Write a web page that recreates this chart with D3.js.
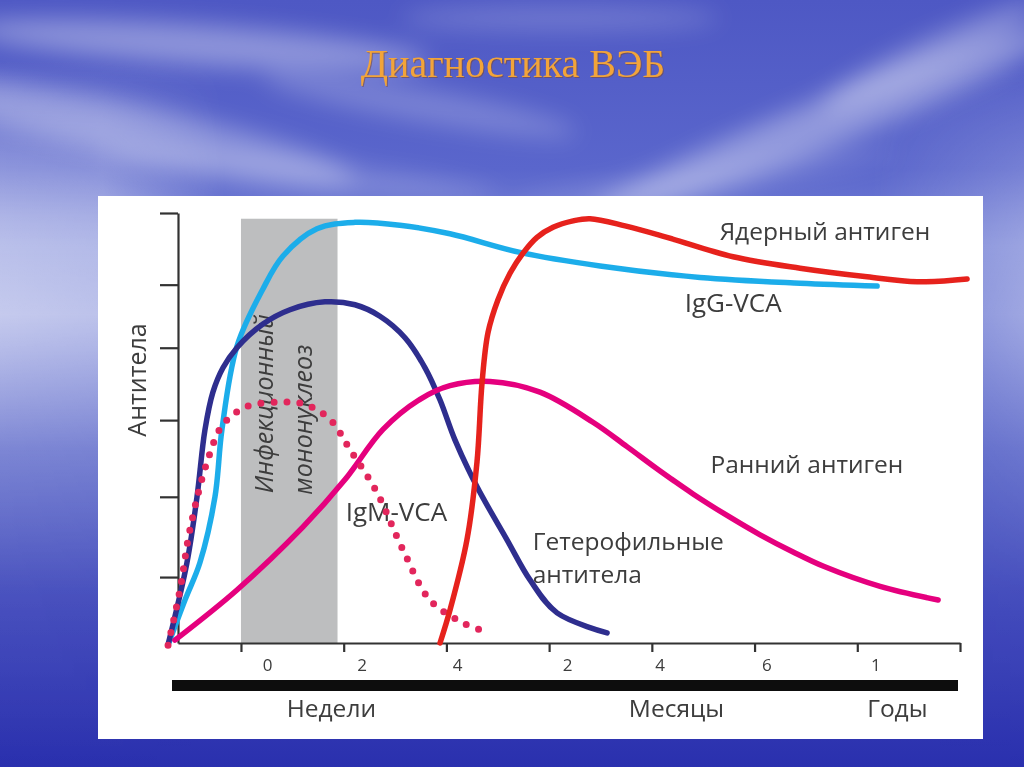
<!doctype html>
<html>
<head>
<meta charset="utf-8">
<script src="https://cdnjs.cloudflare.com/ajax/libs/d3/7.8.5/d3.min.js"></script>
<style>
body{margin:0;overflow:hidden;background:#3a44b8;}
text{font-family:"Open Sans",sans-serif;fill:#3c3c3c;font-weight:500;}
</style>
</head>
<body>
<svg id="slide" width="1024" height="767"></svg>
<script>
// axis ticks and labels
var xTicks = [0, 1, 2, 3, 4, 5, 6, 7];
var xTickLabels = ["0", "2", "4", "2", "4", "6", "1"];
var xLabelAt = [0.26, 1.18, 2.11, 3.18, 4.08, 5.12, 6.18];
var unitNames = ["Недели", "Месяцы", "Годы"];
var unitAt = [0.88, 4.24, 6.39];
var yTicks = [0.92, 2.04, 3.11, 4.12, 5.0, 6.0];
var monoBand = [0, 0.94, 5.92]; // x from, x to, top

// curves [x, y]
var iggVca = [[-0.71,-0.03],[-0.545,0.6],[-0.4,1.12],[-0.253,2.04],[-0.185,2.98],[-0.039,4.14],[0.214,4.94],[0.409,5.4],[0.74,5.78],[1.11,5.87],[1.548,5.83],[2.035,5.71],[2.717,5.45],[3.496,5.26],[4.469,5.1],[5.443,5.02],[6.193,4.98]];
var hetero = [[-0.711,-0.03],[-0.526,1.12],[-0.428,2.04],[-0.351,2.97],[-0.273,3.5],[-0.175,3.84],[-0.039,4.12],[0.214,4.45],[0.477,4.65],[0.818,4.76],[1.11,4.72],[1.353,4.56],[1.597,4.26],[1.792,3.84],[1.938,3.39],[2.084,2.83],[2.298,2.18],[2.59,1.44],[2.814,0.88],[3.077,0.42],[3.564,0.14]];
var igmVca = [[-0.71,-0.03],[-0.594,0.74],[-0.497,1.58],[-0.331,2.52],[-0.175,3.05],[0.058,3.3],[0.38,3.36],[0.623,3.33],[0.867,3.12],[1.061,2.7],[1.324,2.1],[1.577,1.3],[1.84,0.6],[2.162,0.28],[2.405,0.15]];
var earlyAg = [[-0.643,0.04],[-0.039,0.74],[0.604,1.62],[1.013,2.28],[1.383,2.98],[1.743,3.4],[2.035,3.59],[2.425,3.65],[2.911,3.5],[3.427,3.08],[3.758,2.74],[4.08,2.4],[4.401,2.08],[4.732,1.78],[5.054,1.51],[5.375,1.27],[5.672,1.07],[6.222,0.79],[6.787,0.6]];
var nuclearAg = [[1.938,0],[2.035,0.46],[2.2,1.44],[2.298,2.53],[2.347,3.63],[2.405,4.33],[2.502,4.79],[2.619,5.16],[2.746,5.44],[2.882,5.66],[3.038,5.8],[3.233,5.89],[3.398,5.92],[3.739,5.82],[4.148,5.66],[4.791,5.39],[5.443,5.23],[6.095,5.11],[6.582,5.04],[7.069,5.08]];

var labels = [
  {t: "Ядерный антиген", x: 4.66, y: 5.62, s: 24.5},
  {t: "IgG-VCA", x: 4.32, y: 4.62, s: 26},
  {t: "Ранний антиген", x: 4.57, y: 2.37, s: 24.5},
  {t: "Гетерофильные", x: 2.84, y: 1.30, s: 24.5},
  {t: "антитела", x: 2.84, y: 0.84, s: 24.5},
  {t: "IgM-VCA", x: 1.02, y: 1.70, s: 26}
];

var svg = d3.select("#slide");
var defs = svg.append("defs");

// slide background
function grad(id, stops, horiz) {
  var lg = defs.append("linearGradient").attr("id", id).attr("x1", 0).attr("y1", 0)
    .attr("x2", horiz ? 1 : 0).attr("y2", horiz ? 0 : 1);
  stops.forEach(s => lg.append("stop").attr("offset", s[0]).attr("stop-color", s[1]).attr("stop-opacity", s[2] == null ? 1 : s[2]));
}
grad("sky", [["0%", "#4e58c4"], ["22%", "#5a66cc"], ["32%", "#7682d6"], ["45%", "#6c78d2"], ["62%", "#5460c6"], ["80%", "#3e46ba"], ["100%", "#2a30ae"]]);
grad("haze", [["0%", "#fff", 0], ["22%", "#fff", 0.45], ["36%", "#fff", 0.6], ["55%", "#fff", 0.22], ["75%", "#fff", 0.05], ["100%", "#fff", 0]]);
grad("side", [["0%", "#fff", 1], ["10%", "#fff", 0.9], ["22%", "#fff", 0], ["85%", "#fff", 0], ["100%", "#fff", 0.55]], true);
defs.append("mask").attr("id", "sideMask").append("rect").attr("width", 1024).attr("height", 767).attr("fill", "url(#side)");
defs.append("filter").attr("id", "blur").attr("x", "-50%").attr("y", "-50%").attr("width", "200%").attr("height", "200%")
  .append("feGaussianBlur").attr("stdDeviation", 12);
defs.append("filter").attr("id", "soft")
  .append("feGaussianBlur").attr("stdDeviation", 0.55);

svg.append("rect").attr("width", 1024).attr("height", 767).attr("fill", "url(#sky)");
svg.append("rect").attr("x", 0).attr("y", 60).attr("width", 1024).attr("height", 707)
  .attr("fill", "url(#haze)").attr("mask", "url(#sideMask)");

var clouds = [
  [200, 45, 230, 20, 4, 0.35], [130, 130, 230, 26, 12, 0.3], [420, 105, 160, 16, 10, 0.22],
  [820, 125, 250, 24, -22, 0.35], [560, 18, 160, 12, 0, 0.2], [930, 55, 120, 16, -25, 0.3],
  [300, 175, 200, 14, 6, 0.2], [700, 180, 200, 12, -8, 0.15]
];
svg.append("g").attr("filter", "url(#blur)").selectAll("ellipse").data(clouds).enter().append("ellipse")
  .attr("transform", d => "translate(" + d[0] + "," + d[1] + ") rotate(" + d[4] + ")")
  .attr("rx", d => d[2]).attr("ry", d => d[3])
  .attr("fill", "#ffffff").attr("opacity", d => d[5]);

svg.append("text").attr("x", 513).attr("y", 77).attr("text-anchor", "middle")
  .style("font-family", "'Liberation Serif', serif").style("font-size", "40px").style("font-weight", "normal")
  .style("fill", "#7a4a3a").style("opacity", 0.6).attr("dx", 1).attr("dy", 1)
  .text("Диагностика ВЭБ");
svg.append("text").attr("x", 513).attr("y", 77).attr("text-anchor", "middle")
  .style("font-family", "'Liberation Serif', serif").style("font-size", "40px").style("font-weight", "normal")
  .style("fill", "#f2a43a")
  .text("Диагностика ВЭБ");

// chart panel
svg.append("rect").attr("x", 98).attr("y", 196).attr("width", 885).attr("height", 543).attr("fill", "#ffffff");

var x = d3.scaleLinear().domain([-0.613, 7]).range([178, 960]);
var y = d3.scaleLinear().domain([0, 6]).range([643, 213]);

var g = svg.append("g").attr("filter", "url(#soft)");

g.append("rect")
  .attr("x", x(monoBand[0])).attr("width", x(monoBand[1]) - x(monoBand[0]))
  .attr("y", y(monoBand[2])).attr("height", y(0) - y(monoBand[2]))
  .attr("fill", "#bdbebf");

g.append("text").attr("transform", "translate(" + x(0.31) + "," + y(2.09) + ") rotate(-90)")
  .style("font-size", "25px").style("font-style", "italic").text("Инфекционный");
g.append("text").attr("transform", "translate(" + x(0.69) + "," + y(2.07) + ") rotate(-90)")
  .style("font-size", "25px").style("font-style", "italic").text("мононуклеоз");

var yAxis = d3.axisLeft(y).tickValues(yTicks).tickSize(18).tickSizeOuter(0).tickFormat("");
var ya = g.append("g").attr("transform", "translate(178,0)").call(yAxis);
var xAxis = d3.axisBottom(x).tickValues(xTicks).tickSize(9).tickSizeOuter(0).tickFormat("");
var xa = g.append("g").attr("transform", "translate(0,643)").call(xAxis);
[ya, xa].forEach(a => {
  a.select(".domain").attr("stroke", "#333").attr("stroke-width", 2.2);
  a.selectAll(".tick line").attr("stroke", "#333").attr("stroke-width", 2.2);
});

g.selectAll(".xlab").data(xTickLabels).enter().append("text")
  .attr("x", (d, i) => x(xLabelAt[i])).attr("y", 671).attr("text-anchor", "middle")
  .style("font-size", "17px").text(d => d);

g.append("rect").attr("x", 172).attr("y", 680).attr("width", 786).attr("height", 11).attr("fill", "#111");

g.selectAll(".unit").data(unitNames).enter().append("text")
  .attr("x", (d, i) => x(unitAt[i])).attr("y", 717).attr("text-anchor", "middle")
  .style("font-size", "24.5px").text(d => d);

g.append("text").attr("transform", "translate(146,380) rotate(-90)").attr("text-anchor", "middle")
  .style("font-size", "25px").text("Антитела");

g.selectAll(".lab").data(labels).enter().append("text")
  .attr("x", d => x(d.x)).attr("y", d => y(d.y))
  .style("font-size", d => d.s + "px").text(d => d.t);

var line = d3.line().x(d => x(d[0])).y(d => y(d[1])).curve(d3.curveCatmullRom.alpha(0.5));

var series = [
  {d: iggVca, c: "#1fadea", dash: null, w: 5.5},
  {d: hetero, c: "#2e2d8e", dash: null, w: 5.5},
  {d: earlyAg, c: "#e5007e", dash: null, w: 5.5},
  {d: igmVca, c: "#e2285c", dash: "0 13", w: 7},
  {d: nuclearAg, c: "#e6201f", dash: null, w: 5.5}
];
g.selectAll(".curve").data(series).enter().append("path")
  .attr("d", s => line(s.d)).attr("fill", "none")
  .attr("stroke", s => s.c).attr("stroke-width", s => s.w)
  .attr("stroke-linecap", "round").attr("stroke-linejoin", "round")
  .attr("stroke-dasharray", s => s.dash);
</script>
</body>
</html>
